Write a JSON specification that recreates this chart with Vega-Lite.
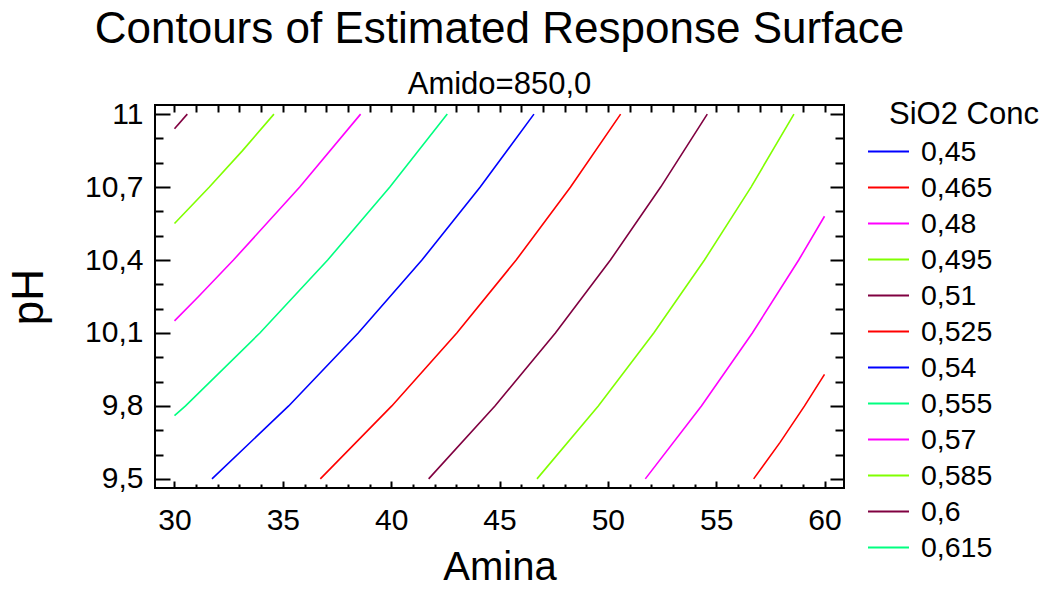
{
  "$schema": "https://vega.github.io/schema/vega-lite/v6.json",
  "width": 689,
  "height": 383,
  "autosize": {"type": "none"},
  "padding": {"left": 155, "top": 105, "right": 209, "bottom": 101},
  "title": {
    "text": "Contours of Estimated Response Surface",
    "subtitle": "Amido=850,0",
    "anchor": "middle",
    "frame": "group",
    "fontSize": 44,
    "fontWeight": "normal",
    "subtitleFontSize": 31,
    "subtitlePadding": 18,
    "offset": -1,
    "color": "black",
    "subtitleColor": "black"
  },
  "data": {
    "values": [
      {"level": "0,465", "amina": 56.73, "ph": 9.5},
      {"level": "0,465", "amina": 57.95, "ph": 9.65},
      {"level": "0,465", "amina": 59.08, "ph": 9.8},
      {"level": "0,465", "amina": 60.0, "ph": 9.93},
      {"level": "0,48", "amina": 51.73, "ph": 9.5},
      {"level": "0,48", "amina": 54.32, "ph": 9.8},
      {"level": "0,48", "amina": 56.67, "ph": 10.1},
      {"level": "0,48", "amina": 58.81, "ph": 10.4},
      {"level": "0,48", "amina": 60.0, "ph": 10.58},
      {"level": "0,495", "amina": 46.73, "ph": 9.5},
      {"level": "0,495", "amina": 49.56, "ph": 9.8},
      {"level": "0,495", "amina": 52.12, "ph": 10.1},
      {"level": "0,495", "amina": 54.46, "ph": 10.4},
      {"level": "0,495", "amina": 56.61, "ph": 10.7},
      {"level": "0,495", "amina": 58.59, "ph": 11.0},
      {"level": "0,51", "amina": 41.73, "ph": 9.5},
      {"level": "0,51", "amina": 44.79, "ph": 9.8},
      {"level": "0,51", "amina": 47.58, "ph": 10.1},
      {"level": "0,51", "amina": 50.12, "ph": 10.4},
      {"level": "0,51", "amina": 52.44, "ph": 10.7},
      {"level": "0,51", "amina": 54.59, "ph": 11.0},
      {"level": "0,525", "amina": 36.73, "ph": 9.5},
      {"level": "0,525", "amina": 40.03, "ph": 9.8},
      {"level": "0,525", "amina": 43.03, "ph": 10.1},
      {"level": "0,525", "amina": 45.77, "ph": 10.4},
      {"level": "0,525", "amina": 48.28, "ph": 10.7},
      {"level": "0,525", "amina": 50.59, "ph": 11.0},
      {"level": "0,54", "amina": 31.73, "ph": 9.5},
      {"level": "0,54", "amina": 35.27, "ph": 9.8},
      {"level": "0,54", "amina": 38.48, "ph": 10.1},
      {"level": "0,54", "amina": 41.42, "ph": 10.4},
      {"level": "0,54", "amina": 44.11, "ph": 10.7},
      {"level": "0,54", "amina": 46.59, "ph": 11.0},
      {"level": "0,555", "amina": 30.0, "ph": 9.76},
      {"level": "0,555", "amina": 30.51, "ph": 9.8},
      {"level": "0,555", "amina": 33.94, "ph": 10.1},
      {"level": "0,555", "amina": 37.07, "ph": 10.4},
      {"level": "0,555", "amina": 39.94, "ph": 10.7},
      {"level": "0,555", "amina": 42.59, "ph": 11.0},
      {"level": "0,57", "amina": 30.0, "ph": 10.15},
      {"level": "0,57", "amina": 31.11, "ph": 10.25},
      {"level": "0,57", "amina": 32.72, "ph": 10.4},
      {"level": "0,57", "amina": 35.78, "ph": 10.7},
      {"level": "0,57", "amina": 38.59, "ph": 11.0},
      {"level": "0,585", "amina": 30.0, "ph": 10.55},
      {"level": "0,585", "amina": 31.61, "ph": 10.7},
      {"level": "0,585", "amina": 33.14, "ph": 10.85},
      {"level": "0,585", "amina": 34.59, "ph": 11.0},
      {"level": "0,6", "amina": 30.0, "ph": 10.94},
      {"level": "0,6", "amina": 30.59, "ph": 11.0}
    ]
  },
  "layer": [
    {
      "mark": {"type": "line", "strokeWidth": 1.6, "clip": true},
      "encoding": {
        "x": {
          "field": "amina", "type": "quantitative",
          "scale": {"domain": [29.1, 60.9], "nice": false, "zero": false},
          "axis": {
            "orient": "bottom", "title": "Amina", "values": [30, 35, 40, 45, 50, 55, 60],
            "ticks": false, "domain": false, "grid": false,
            "labelFontSize": 30, "labelPadding": 17, "titleFontSize": 40, "titlePadding": 12,
            "labelColor": "black", "titleColor": "black", "titleFontWeight": "normal"
          }
        },
        "y": {
          "field": "ph", "type": "quantitative",
          "scale": {"domain": [9.4625, 11.0375], "nice": false, "zero": false},
          "axis": {
            "orient": "left", "title": "pH", "values": [9.5, 9.8, 10.1, 10.4, 10.7, 11],
            "labelExpr": "replace(format(datum.value, '.1~f'), '.', ',')",
            "ticks": false, "domain": false, "grid": false,
            "labelFontSize": 30, "labelPadding": 12, "titleFontSize": 44, "titlePadding": 33,
            "labelColor": "black", "titleColor": "black", "titleFontWeight": "normal"
          }
        },
        "color": {
          "field": "level", "type": "nominal",
          "scale": {
            "domain": ["0,45", "0,465", "0,48", "0,495", "0,51", "0,525", "0,54", "0,555", "0,57", "0,585", "0,6", "0,615"],
            "range": ["#0000FF", "#FF0000", "#FF00FF", "#80FF00", "#800040", "#FF0000", "#0000FF", "#00FF80", "#FF00FF", "#80FF00", "#800040", "#00FF80"]
          },
          "legend": {
            "orient": "none", "legendX": 734, "legendY": -5,
            "title": "SiO2 Conc", "titleFontSize": 31, "titleFontWeight": "normal", "titleColor": "black",
            "titlePadding": -1, "titleLimit": 400,
            "labelFontSize": 28.5, "labelColor": "black", "labelLimit": 300,
            "symbolType": "stroke", "symbolSize": 1681, "symbolStrokeWidth": 2,
            "symbolOffset": -22, "labelOffset": 11, "rowPadding": -8, "padding": 0
          }
        }
      }
    },
    {
      "mark": {"type": "point", "opacity": 0},
      "encoding": {
        "x": {
          "field": "amina", "type": "quantitative",
          "scale": {"domain": [29.1, 60.9], "nice": false, "zero": false},
          "axis": {"orient": "bottom", "title": null, "labels": false, "domain": false, "grid": false,
                   "values": [30, 35, 40, 45, 50, 55, 60], "tickSize": -7}
        },
        "y": {
          "field": "ph", "type": "quantitative",
          "scale": {"domain": [9.4625, 11.0375], "nice": false, "zero": false},
          "axis": {"orient": "left", "title": null, "labels": false, "domain": false, "grid": false,
                   "values": [9.5, 9.8, 10.1, 10.4, 10.7, 11], "tickSize": -15}
        }
      }
    },
    {
      "mark": {"type": "point", "opacity": 0},
      "encoding": {
        "x": {
          "field": "amina", "type": "quantitative",
          "scale": {"domain": [29.1, 60.9], "nice": false, "zero": false},
          "axis": {"orient": "bottom", "title": null, "labels": false, "domain": false, "grid": false,
                   "values": [31, 32, 33, 34, 36, 37, 38, 39, 41, 42, 43, 44, 46, 47, 48, 49, 51, 52, 53, 54, 56, 57, 58, 59], "tickSize": -4}
        },
        "y": {
          "field": "ph", "type": "quantitative",
          "scale": {"domain": [9.4625, 11.0375], "nice": false, "zero": false},
          "axis": {"orient": "left", "title": null, "labels": false, "domain": false, "grid": false,
                   "values": [9.6, 9.7, 9.9, 10.0, 10.2, 10.3, 10.5, 10.6, 10.8, 10.9], "tickSize": -8}
        }
      }
    },
    {
      "mark": {"type": "point", "opacity": 0},
      "encoding": {
        "x": {
          "field": "amina", "type": "quantitative",
          "scale": {"domain": [29.1, 60.9], "nice": false, "zero": false},
          "axis": {"orient": "top", "title": null, "labels": false, "domain": false, "grid": false,
                   "values": [30, 31, 32, 33, 34, 35, 36, 37, 38, 39, 40, 41, 42, 43, 44, 45, 46, 47, 48, 49, 50, 51, 52, 53, 54, 55, 56, 57, 58, 59, 60], "tickSize": -7}
        },
        "y": {
          "field": "ph", "type": "quantitative",
          "scale": {"domain": [9.4625, 11.0375], "nice": false, "zero": false},
          "axis": {"orient": "right", "title": null, "labels": false, "domain": false, "grid": false,
                   "values": [9.5, 9.8, 10.1, 10.4, 10.7, 11], "tickSize": -14}
        }
      }
    },
    {
      "mark": {"type": "point", "opacity": 0},
      "encoding": {
        "x": {
          "field": "amina", "type": "quantitative",
          "scale": {"domain": [29.1, 60.9], "nice": false, "zero": false},
          "axis": null
        },
        "y": {
          "field": "ph", "type": "quantitative",
          "scale": {"domain": [9.4625, 11.0375], "nice": false, "zero": false},
          "axis": {"orient": "right", "title": null, "labels": false, "domain": false, "grid": false,
                   "values": [9.6, 9.7, 9.9, 10.0, 10.2, 10.3, 10.5, 10.6, 10.8, 10.9], "tickSize": -9}
        }
      }
    }
  ],
  "resolve": {"axis": {"x": "independent", "y": "independent"}},
  "config": {
    "font": "Liberation Sans",
    "background": "white",
    "view": {"stroke": "black", "strokeWidth": 2},
    "axis": {"tickColor": "black", "tickWidth": 2, "grid": false, "labelColor": "black", "titleColor": "black"}
  }
}
